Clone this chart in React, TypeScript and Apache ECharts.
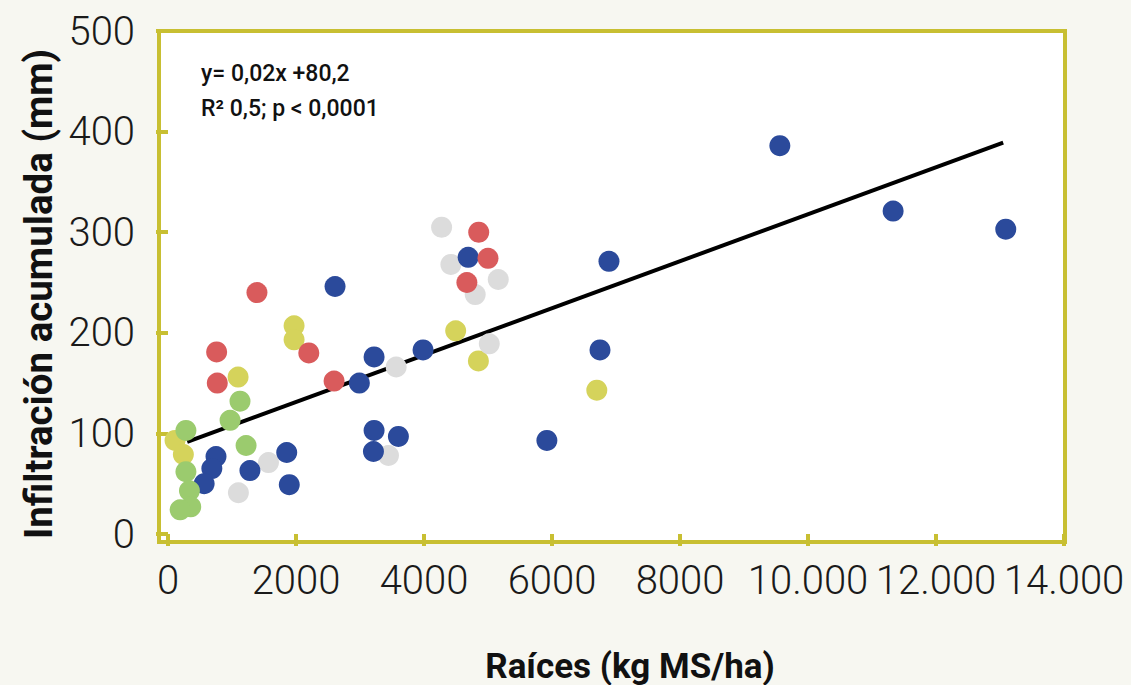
import React, { useEffect, useRef } from "react";
import * as echarts from "echarts";

const xTickLabels = ["0", "2000", "4000", "6000", "8000", "10.000", "12.000", "14.000"];
const yTickLabels = ["0", "100", "200", "300", "400", "500"];

const blueX = [9560, 11330, 13090, 6890, 4690, 2610, 6750, 3985, 3220, 2990, 5920, 3220, 3210, 3600, 1855, 1895, 1280, 750, 685, 565];
const blueY = [386, 321, 303, 271, 275, 246, 183, 183, 176, 150, 93, 103, 82, 97, 81, 49, 63, 77, 65, 50];

const redX = [1390, 760, 770, 2200, 2595, 4855, 5000, 4670];
const redY = [240, 181, 150, 180, 152, 300, 274, 250];

const yellowX = [1970, 1970, 1095, 4495, 4850, 6700, 110, 240];
const yellowY = [207, 193, 156, 202, 172, 143, 93, 79];

const greenX = [1125, 970, 280, 1220, 280, 335, 355, 190];
const greenY = [132, 113, 103, 88, 62, 43, 27, 24];

const grayX = [4275, 4420, 5160, 4800, 5020, 3565, 3445, 1570, 1100];
const grayY = [305, 268, 253, 238, 189, 166, 78, 71, 41];

const fitX = [300, 13050];
const fitY = [91.5, 389];

const zip = (xs: number[], ys: number[]) => xs.map((x, i) => [x, ys[i]]);

export default function App() {
  const ref = useRef<HTMLDivElement>(null);
  useEffect(() => {
    if (!ref.current) return;
    const chart = echarts.init(ref.current, null, { renderer: "svg" });
    const olive = "#c8bf32";
    const sym = 21;
    const scatter = (data: number[][], color: string) => ({
      type: "scatter",
      data,
      symbol: "circle",
      symbolSize: sym,
      itemStyle: { color, opacity: 1 },
      z: 3,
    });
    chart.setOption({
      animation: false,
      backgroundColor: "#f7f7f1",
      grid: { left: 168, right: 67, top: 31, bottom: 151, containLabel: false },
      xAxis: {
        type: "value",
        min: 0,
        max: 14000,
        interval: 2000,
        offset: 8,
        axisLine: { show: false },
        axisTick: { show: true, length: 12, lineStyle: { color: olive, width: 4 } },
        splitLine: { show: false },
        axisLabel: {
          margin: 18,
          color: "#1a1a1a",
          fontFamily: "Roboto",
          fontWeight: 300,
          fontSize: 40,
          formatter: (v: number) => xTickLabels[Math.round(v / 2000)] ?? "",
        },
      },
      yAxis: {
        type: "value",
        min: 0,
        max: 500,
        interval: 100,
        offset: 9,
        axisLine: { show: false },
        axisTick: { show: true, length: 12, lineStyle: { color: olive, width: 4 } },
        splitLine: { show: false },
        axisLabel: {
          margin: 24,
          color: "#1a1a1a",
          fontFamily: "Roboto",
          fontWeight: 300,
          fontSize: 40,
          formatter: (v: number) => yTickLabels[Math.round(v / 100)] ?? "",
        },
      },
      graphic: [
        {
          type: "rect",
          z: -10,
          shape: { x: 159, y: 31, width: 906, height: 511 },
          style: { fill: "#ffffff", stroke: olive, lineWidth: 4 },
        },
        {
          type: "text",
          x: 201,
          y: 62,
          style: {
            text: "y= 0,02x +80,2",
            fontFamily: "Roboto",
            fontWeight: 500,
            fontSize: 23,
            fill: "#111",
          },
        },
        {
          type: "text",
          x: 201,
          y: 97,
          style: {
            text: "R² 0,5; p < 0,0001",
            fontFamily: "Roboto",
            fontWeight: 500,
            fontSize: 23,
            fill: "#111",
          },
        },
        {
          type: "text",
          x: 630,
          y: 666,
          style: {
            text: "Raíces (kg MS/ha)",
            fontFamily: "Roboto",
            fontWeight: 700,
            fontSize: 35,
            fill: "#111",
            textAlign: "center",
            textVerticalAlign: "middle",
          },
        },
        {
          type: "text",
          x: 38,
          y: 294,
          rotation: Math.PI / 2,
          style: {
            text: "Infiltración acumulada (mm)",
            fontFamily: "Roboto",
            fontWeight: 700,
            fontSize: 38.5,
            fill: "#111",
            textAlign: "center",
            textVerticalAlign: "middle",
          },
        },
      ],
      series: [
        {
          type: "line",
          data: zip(fitX, fitY),
          symbol: "none",
          lineStyle: { color: "#000", width: 4 },
          z: 2,
        },
        scatter(zip(yellowX, yellowY), "#d5d35b"),
        scatter(zip(grayX, grayY), "#dcdcdc"),
        scatter(zip(blueX, blueY), "#2b4a9b"),
        scatter(zip(redX, redY), "#d95b5c"),
        scatter(zip(greenX, greenY), "#9bcb6e"),
      ],
    });
    return () => chart.dispose();
  }, []);
  return (
    <div
      ref={ref}
      style={{ position: "fixed", left: 0, top: 0, width: 1131, height: 685 }}
    />
  );
}
